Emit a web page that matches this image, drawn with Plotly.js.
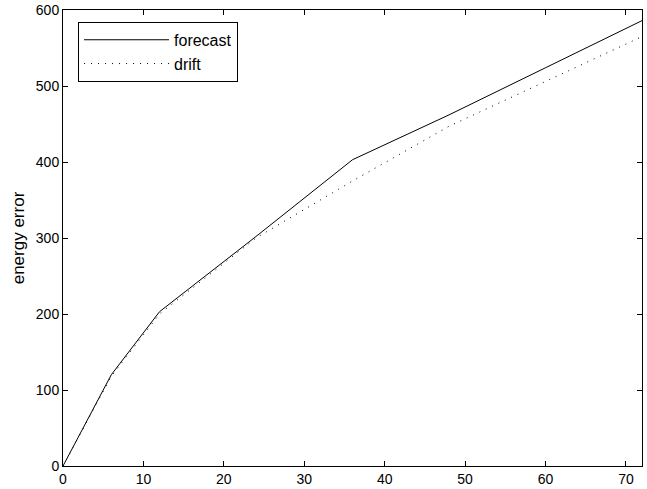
<!DOCTYPE html>
<html>
<head>
<meta charset="utf-8">
<script src="https://cdn.plot.ly/plotly-3.0.1.min.js"></script>
<style>html,body{margin:0;padding:0;background:#fff;}#chart{width:647px;height:489px;}</style>
</head>
<body>
<div id="chart"></div>
<script>
const lead = [0, 6, 12, 24, 36, 48, 60, 72];
const forecastError = [0, 120, 203, 302, 403, 462, 524, 586];
const driftError = [0, 118, 200, 300, 375, 447, 506, 565];
const xTicks = [0, 10, 20, 30, 40, 50, 60, 70];
const yTicks = [0, 100, 200, 300, 400, 500, 600];

const FONT = 'Liberation Sans, Arial, Helvetica, sans-serif';

const traces = [
  {x: lead, y: forecastError, name: 'forecast', mode: 'lines', type: 'scatter',
   line: {color: '#000', width: 1}},
  {x: lead, y: driftError, name: 'drift', mode: 'lines', type: 'scatter',
   line: {color: '#000', width: 1, dash: '1px,6px'}}
];

const axisCommon = {
  showline: true, linecolor: '#000', linewidth: 1, mirror: 'ticks',
  ticks: 'inside', ticklen: 5, tickcolor: '#000', tickwidth: 1,
  showgrid: false, zeroline: false,
  tickfont: {family: FONT, size: 14, color: '#000'}
};

const layout = {
  width: 647, height: 489,
  margin: {l: 63, r: 5, t: 10, b: 23},
  paper_bgcolor: '#fff', plot_bgcolor: '#fff',
  font: {family: FONT, color: '#000'},
  showlegend: true,
  legend: {x: 0.026, y: 0.974, xanchor: 'left', yanchor: 'top',
    bordercolor: '#000', borderwidth: 1, bgcolor: '#fff',
    font: {family: FONT, size: 16, color: '#000'}, itemwidth: 85},
  xaxis: Object.assign({}, axisCommon, {range: [0, 72], tickvals: xTicks, ticktext: xTicks.map(String)}),
  yaxis: Object.assign({}, axisCommon, {range: [0, 600], tickvals: yTicks, ticktext: yTicks.map(String),
    title: {text: 'energy error', font: {family: FONT, size: 17, color: '#000'}, standoff: 6}})
};

Plotly.newPlot('chart', traces, layout, {displayModeBar: false, staticPlot: true});
</script>
</body>
</html>
